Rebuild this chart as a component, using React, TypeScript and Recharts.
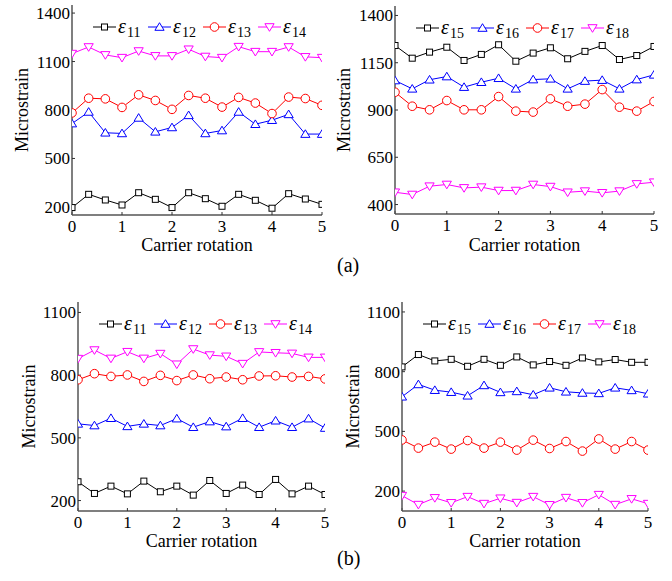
import React from "react";
import { Legend, Line, LineChart, XAxis, YAxis } from "recharts";

const SERIF = '"Liberation Serif", "Times New Roman", serif';

// carrier rotation at each sample (three samples per rotation)
const rotation = [0, 0.333, 0.667, 1, 1.333, 1.667, 2, 2.333, 2.667, 3, 3.333, 3.667, 4, 4.333, 4.667, 5];
const rotationTicks = [0, 1, 2, 3, 4, 5];

// (a) measured strain, gauges 11-14
const a11 = [196, 278, 243, 212, 288, 247, 196, 288, 251, 204, 278, 241, 192, 282, 249, 216];
const a12 = [716, 788, 659, 655, 751, 665, 692, 767, 655, 673, 788, 712, 737, 773, 651, 651];
const a13 = [782, 873, 869, 816, 894, 859, 804, 890, 873, 818, 878, 843, 778, 880, 871, 829];
const a14 = [1149, 1190, 1141, 1124, 1165, 1135, 1135, 1176, 1131, 1124, 1192, 1161, 1161, 1190, 1129, 1124];

// (a) gauges 15-18
const a15 = [1241, 1174, 1206, 1232, 1162, 1194, 1245, 1158, 1201, 1229, 1171, 1210, 1241, 1167, 1188, 1236];
const a16 = [1056, 1012, 1060, 1077, 1021, 1047, 1068, 1012, 1061, 1065, 1012, 1053, 1058, 1012, 1061, 1086];
const a17 = [994, 920, 901, 950, 901, 901, 971, 894, 889, 959, 920, 931, 1008, 915, 894, 945];
const a18 = [465, 453, 497, 506, 488, 492, 474, 474, 506, 495, 465, 471, 462, 471, 509, 518];

// (b) gauges 11-14
const b11 = [290, 234, 269, 232, 293, 242, 269, 226, 296, 234, 274, 229, 301, 232, 269, 229];
const b12 = [567, 559, 594, 555, 567, 559, 592, 551, 578, 554, 594, 551, 582, 551, 592, 547];
const b13 = [778, 807, 794, 801, 770, 799, 774, 801, 783, 791, 778, 796, 797, 791, 794, 782];
const b14 = [879, 920, 880, 912, 880, 903, 852, 925, 896, 890, 855, 911, 907, 904, 885, 885];

// (b) gauges 15-18
const b15 = [824, 886, 854, 862, 827, 862, 832, 874, 834, 851, 832, 869, 849, 861, 847, 847];
const b16 = [674, 736, 707, 697, 679, 731, 696, 701, 684, 719, 699, 693, 691, 719, 706, 689];
const b17 = [457, 416, 446, 411, 454, 416, 446, 406, 456, 414, 449, 401, 462, 411, 449, 406];
const b18 = [177, 132, 166, 141, 172, 137, 164, 142, 172, 131, 167, 141, 182, 132, 161, 137];

type Shape = "square" | "up" | "circle" | "down";

const STYLES: { color: string; shape: Shape }[] = [
  { color: "#000000", shape: "square" },
  { color: "#0000ff", shape: "up" },
  { color: "#ff0000", shape: "circle" },
  { color: "#ff00ff", shape: "down" },
];

function Marker({ shape, x, y, color }: { shape: Shape; x: number; y: number; color: string }) {
  const common = { fill: "#ffffff", stroke: color, strokeWidth: 1 };
  if (shape === "square") return <rect x={x - 3} y={y - 3} width={6} height={6} {...common} />;
  if (shape === "circle") return <circle cx={x} cy={y} r={4.3} {...common} />;
  if (shape === "up")
    return <polygon points={`${x},${y - 4.3} ${x + 4.6},${y + 3.3} ${x - 4.6},${y + 3.3}`} {...common} />;
  return <polygon points={`${x},${y + 4.3} ${x + 4.6},${y - 3.3} ${x - 4.6},${y - 3.3}`} {...common} />;
}

function makeDot(shape: Shape, color: string) {
  return (props: any) => {
    const { cx, cy, index } = props;
    if (cx == null || cy == null) return <g key={index} />;
    return <Marker key={index} shape={shape} x={cx} y={cy} color={color} />;
  };
}

function LegendRow({ ids }: { ids: string[] }) {
  return (
    <div style={{ position: "relative", height: 24, fontFamily: SERIF, color: "#000" }}>
      {ids.map((id, i) => {
        const st = STYLES[i];
        return (
          <div key={id} style={{ position: "absolute", left: i * 55, top: 0, height: 24, whiteSpace: "nowrap" }}>
            <svg width={23} height={24} style={{ position: "absolute", left: 0, top: 0 }}>
              <line x1={0} y1={12} x2={23} y2={12} stroke={st.color} strokeWidth={1} />
              <Marker shape={st.shape} x={11.5} y={12} color={st.color} />
            </svg>
            <span style={{ position: "absolute", left: 25, top: 0, fontSize: 20, fontStyle: "italic", lineHeight: "22px" }}>
              ε
            </span>
            <span style={{ position: "absolute", left: 34, top: 10, fontSize: 14, lineHeight: "16px" }}>{id}</span>
          </div>
        );
      })}
    </div>
  );
}

interface PanelProps {
  left: number;
  top: number;
  width: number;
  height: number;
  plotLeft: number;
  plotRight: number;
  plotTop: number;
  xAxisHeight: number;
  titleX: number;
  domain: [number, number];
  ticks: number[];
  ids: string[];
  series: number[][];
}

function Panel(p: PanelProps) {
  const rows = rotation.map((r, i) => {
    const row: Record<string, number> = { r };
    p.ids.forEach((id, k) => {
      row["e" + id] = p.series[k][i];
    });
    return row;
  });
  const tickStyle = { fontFamily: SERIF, fontSize: 17, fill: "#000" };
  const plotH = p.height - p.plotTop - p.xAxisHeight;

  return (
    <div style={{ position: "absolute", left: p.left, top: p.top }}>
      <LineChart
        width={p.width}
        height={p.height}
        data={rows}
        margin={{ top: p.plotTop, right: p.width - p.plotRight, left: 0, bottom: 0 }}
      >
        <XAxis
          dataKey="r"
          type="number"
          domain={[0, 5]}
          ticks={rotationTicks}
          allowDataOverflow
          height={p.xAxisHeight}
          tick={tickStyle}
          tickSize={-3}
          tickMargin={8}
          axisLine={{ stroke: "#555", strokeWidth: 1.5 }}
          tickLine={{ stroke: "#333" }}
          label={{
            value: "Carrier rotation",
            position: "insideBottom",
            offset: 4,
            style: { fontFamily: SERIF, fontSize: 18, fill: "#000" },
          }}
        />
        <YAxis
          type="number"
          domain={p.domain}
          ticks={p.ticks}
          allowDataOverflow
          width={p.plotLeft}
          tick={tickStyle}
          tickSize={-3}
          tickMargin={5}
          axisLine={{ stroke: "#555", strokeWidth: 1.5 }}
          tickLine={{ stroke: "#333" }}
          label={(props: any) => {
            const vb = props.viewBox || { y: p.plotTop, height: plotH };
            const cy = vb.y + vb.height / 2;
            return (
              <text
                x={p.titleX}
                y={cy}
                transform={`rotate(-90 ${p.titleX} ${cy})`}
                textAnchor="middle"
                style={{ fontFamily: SERIF, fontSize: 18, fill: "#000" }}
              >
                Microstrain
              </text>
            );
          }}
        />
        <Legend
          layout="horizontal"
          verticalAlign="middle"
          align="center"
          wrapperStyle={{ top: p.plotTop + 10, left: p.plotLeft + 21, width: 230, height: 24 }}
          content={() => <LegendRow ids={p.ids} />}
        />
        {p.ids.map((id, k) => (
          <Line
            key={id}
            dataKey={"e" + id}
            type="linear"
            stroke={STYLES[k].color}
            strokeWidth={1}
            dot={makeDot(STYLES[k].shape, STYLES[k].color)}
            activeDot={false}
            isAnimationActive={false}
          />
        ))}
      </LineChart>
    </div>
  );
}

export default function App() {
  return (
    <div
      style={{
        position: "absolute",
        left: 0,
        top: 0,
        width: 672,
        height: 581,
        background: "#ffffff",
        overflow: "hidden",
      }}
    >
      <Panel
        left={0}
        top={0}
        width={336}
        height={255}
        plotLeft={72}
        plotRight={322}
        plotTop={5}
        xAxisHeight={40}
        titleX={28}
        domain={[150, 1450]}
        ticks={[200, 500, 800, 1100, 1400]}
        ids={["11", "12", "13", "14"]}
        series={[a11, a12, a13, a14]}
      />
      <Panel
        left={326}
        top={0}
        width={346}
        height={255}
        plotLeft={69}
        plotRight={328}
        plotTop={6}
        xAxisHeight={41}
        titleX={24}
        domain={[350, 1450]}
        ticks={[400, 650, 900, 1150, 1400]}
        ids={["15", "16", "17", "18"]}
        series={[a15, a16, a17, a18]}
      />
      <Panel
        left={0}
        top={290}
        width={336}
        height={261}
        plotLeft={78}
        plotRight={325}
        plotTop={12}
        xAxisHeight={40}
        titleX={35}
        domain={[150, 1150]}
        ticks={[200, 500, 800, 1100]}
        ids={["11", "12", "13", "14"]}
        series={[b11, b12, b13, b14]}
      />
      <Panel
        left={336}
        top={290}
        width={336}
        height={261}
        plotLeft={66}
        plotRight={312}
        plotTop={12}
        xAxisHeight={40}
        titleX={23}
        domain={[100, 1150]}
        ticks={[200, 500, 800, 1100]}
        ids={["15", "16", "17", "18"]}
        series={[b15, b16, b17, b18]}
      />
      <div style={{ position: "absolute", left: 337, top: 254, fontFamily: SERIF, fontSize: 20 }}>(a)</div>
      <div style={{ position: "absolute", left: 337, top: 547, fontFamily: SERIF, fontSize: 20 }}>(b)</div>
    </div>
  );
}
